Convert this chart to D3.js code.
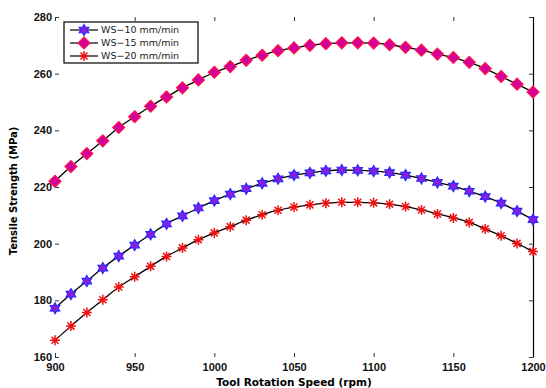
<!DOCTYPE html>
<html>
<head>
<meta charset="utf-8">
<script src="https://cdn.jsdelivr.net/npm/d3@7"></script>
<style>
  body { margin: 0; background: #fff; }
  svg { font-family: "DejaVu Sans", "Liberation Sans", Arial, sans-serif; }
  .tick text { font-weight: bold; font-size: 11px; fill: #111; }
</style>
</head>
<body>
<div id="chart"></div>
<script>
// rotation speed, rpm
var speeds = [900, 910, 920, 930, 940, 950, 960, 970, 980, 990, 1000, 1010, 1020, 1030, 1040,
  1050, 1060, 1070, 1080, 1090, 1100, 1110, 1120, 1130, 1140, 1150, 1160, 1170, 1180, 1190, 1200];

// tensile strength, MPa
var ws10 = [177.2, 182.2, 186.8, 191.4, 195.6, 199.5, 203.3, 207.0, 209.8, 212.6, 215.2, 217.5, 219.4,
  221.3, 222.9, 224.2, 225.0, 225.7, 226.0, 225.9, 225.6, 225.1, 224.2, 223.0, 221.6, 220.3, 218.5,
  216.6, 214.3, 211.5, 208.5];
var ws15 = [222.0, 227.2, 231.8, 236.3, 241.0, 244.8, 248.5, 251.8, 255.0, 257.8, 260.5, 262.5, 264.7,
  266.5, 268.1, 269.1, 270.0, 270.6, 270.9, 270.9, 270.8, 270.2, 269.3, 268.3, 266.9, 265.7, 264.0,
  261.8, 259.0, 256.3, 253.5];
var ws20 = [165.9, 170.9, 175.7, 180.2, 184.7, 188.3, 192.0, 195.5, 198.5, 201.4, 203.8, 206.0, 208.3,
  210.2, 211.8, 212.9, 213.7, 214.3, 214.6, 214.6, 214.4, 213.9, 213.1, 211.9, 210.5, 209.1, 207.5,
  205.2, 202.8, 200.1, 197.2];

var xTicks = [900, 950, 1000, 1050, 1100, 1150, 1200];
var yTicks = [160, 180, 200, 220, 240, 260, 280];
var seriesNames = ["WS\u221210 mm/min", "WS\u221215 mm/min", "WS\u221220 mm/min"];

var width = 546, height = 388;
var margin = {top: 17, right: 13, bottom: 31, left: 55};

var svg = d3.select("#chart").append("svg")
    .attr("width", width)
    .attr("height", height);

var x = d3.scaleLinear().domain([900, 1200]).range([margin.left, width - margin.right]);
var y = d3.scaleLinear().domain([160, 280]).range([height - margin.bottom, margin.top]);

// axes: labels on bottom/left, ticks pointing inwards on all four sides
svg.append("g")
    .attr("transform", "translate(0," + (height - margin.bottom) + ")")
    .call(d3.axisBottom(x).tickValues(xTicks).tickFormat(d3.format("d"))
      .tickSizeInner(-4).tickSizeOuter(0).tickPadding(6))
    .call(function(g) { g.select(".domain").remove(); });

svg.append("g")
    .attr("transform", "translate(" + margin.left + ",0)")
    .call(d3.axisLeft(y).tickValues(yTicks).tickSizeInner(-4).tickSizeOuter(0).tickPadding(3))
    .call(function(g) { g.select(".domain").remove(); });

svg.append("g")
    .attr("transform", "translate(0," + margin.top + ")")
    .call(d3.axisTop(x).tickValues(xTicks).tickSizeInner(-4).tickSizeOuter(0).tickFormat(""))
    .call(function(g) { g.select(".domain").remove(); });

// right side keeps its axis line
svg.append("g")
    .attr("transform", "translate(" + (width - margin.right) + ",0)")
    .call(d3.axisRight(y).tickValues(yTicks).tickSizeInner(-4).tickSizeOuter(0).tickFormat(""))
    .call(function(g) { g.select(".domain").attr("stroke", "#000").attr("stroke-width", 1.2); });

svg.selectAll(".tick line").attr("stroke", "#333");

// axis titles
svg.append("text")
    .attr("x", (margin.left + width - margin.right) / 2)
    .attr("y", height - 2)
    .attr("text-anchor", "middle")
    .style("font-weight", "bold")
    .style("font-size", "10.5px")
    .text("Tool Rotation Speed (rpm)");

svg.append("text")
    .attr("transform", "translate(17," + (margin.top + (height - margin.bottom - margin.top) / 2 + 4) + ") rotate(-90)")
    .attr("text-anchor", "middle")
    .style("font-weight", "bold")
    .style("font-size", "10px")
    .text("Tensile Strength (MPa)");

// marker shapes
function hexagram(s) {
  var pts = [];
  for (var i = 0; i < 12; i++) {
    var r = (i % 2 == 0) ? s : s * 0.58;
    var a = Math.PI / 6 * i - Math.PI / 2;
    pts.push([r * Math.cos(a), r * Math.sin(a)]);
  }
  return "M" + pts.join("L") + "Z";
}
function diamond(s) {
  return "M0," + (-s) + "L" + s + ",0L0," + s + "L" + (-s) + ",0Z";
}
function asterisk(s) {
  var p = "";
  for (var i = 0; i < 4; i++) {
    var a = Math.PI / 4 * i;
    p += "M" + (-s * Math.cos(a)) + "," + (-s * Math.sin(a)) + "L" + (s * Math.cos(a)) + "," + (s * Math.sin(a));
  }
  return p;
}

var series = [
  {name: seriesNames[0], values: ws10, path: hexagram(5.5), fill: "#8a1ed8", stroke: "#2b2bff", sw: 1.2},
  {name: seriesNames[1], values: ws15, path: diamond(6), fill: "#d4009c", stroke: "#ff1744", sw: 1.2},
  {name: seriesNames[2], values: ws20, path: asterisk(5), fill: "none", stroke: "#ee1111", sw: 1.5}
];

var line = d3.line()
    .x(function(d, i) { return x(speeds[i]); })
    .y(function(d) { return y(d); })
    .curve(d3.curveMonotoneX);

series.forEach(function(s) {
  svg.append("path")
      .attr("d", line(s.values))
      .attr("fill", "none")
      .attr("stroke", "#000")
      .attr("stroke-width", 1.3);

  svg.append("g").selectAll("path")
      .data(s.values)
    .enter().append("path")
      .attr("transform", function(d, i) { return "translate(" + x(speeds[i]) + "," + y(d) + ")"; })
      .attr("d", s.path)
      .attr("fill", s.fill)
      .attr("stroke", s.stroke)
      .attr("stroke-width", s.sw);
});

// legend
var legend = svg.append("g").attr("transform", "translate(64,22)");
legend.append("rect")
    .attr("width", 134)
    .attr("height", 41)
    .attr("fill", "#fff")
    .attr("stroke", "#000")
    .attr("stroke-width", 1.2);

var item = legend.selectAll(".item")
    .data(series)
  .enter().append("g")
    .attr("class", "item")
    .attr("transform", function(d, i) { return "translate(0," + (8 + i * 13) + ")"; });

item.append("line")
    .attr("x1", 6).attr("x2", 34)
    .attr("stroke", "#000").attr("stroke-width", 1.2);

item.append("path")
    .attr("transform", "translate(20,0)")
    .attr("d", function(d) { return d.path; })
    .attr("fill", function(d) { return d.fill; })
    .attr("stroke", function(d) { return d.stroke; })
    .attr("stroke-width", function(d) { return d.sw; });

item.append("text")
    .attr("x", 37)
    .attr("dy", "0.35em")
    .style("font-size", "9.5px")
    .style("fill", "#222")
    .text(function(d) { return d.name; });
</script>
</body>
</html>
